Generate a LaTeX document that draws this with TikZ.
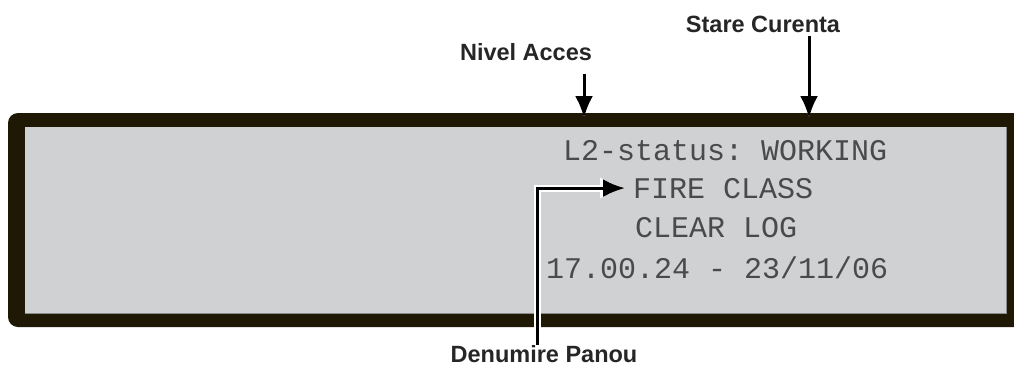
\documentclass[tikz,border=0pt]{standalone}
\usepackage{fontspec}
\setmainfont{Liberation Sans}
\setmonofont{Liberation Mono}
\usetikzlibrary{arrows.meta}
\usetikzlibrary{calc}

\definecolor{framecol}{HTML}{1F1804}
\definecolor{lcdcol}{HTML}{D0D1D3}
\definecolor{dotcol}{HTML}{4A4A4A}

\tikzset{
  label text/.style = {font = \fontsize{23.5}{28}\bfseries\selectfont,
    text = black!85, inner sep = 2pt, anchor = base},
  lcd text/.style = {font = \fontsize{30}{34}\ttfamily\selectfont,
    text = dotcol, inner sep = 0pt, anchor = base west},
  pointer/.style = {line width = 3pt, -{Latex[length = 22pt, width = 18pt]},
    preaction = {draw = white, line width = 7pt,
      -{Latex[length = 25pt, width = 22pt]}}}
}

\begin{document}
\begin{tikzpicture}[x = 1pt, y = -1pt]
  \useasboundingbox (0, 0) rectangle (1014, 367);

  % display frame and glass
  \begin{scope}
    \clip (0, 0) rectangle (1014, 367);
    \fill[framecol, rounded corners = 10pt] (8, 113) rectangle (1040, 327);
  \end{scope}
  \fill[lcdcol] (25, 127) rectangle (1006, 313);
  \draw[black!45, line width = .8pt] (25, 313) -- (1006, 313) -- (1006, 127);

  % lines on the display
  \node[lcd text] (status) at (563, 160) {L2-status: WORKING};
  \node[lcd text] (fire) at (633, 198) {FIRE CLASS};
  \node[lcd text] (clear) at (635, 237) {CLEAR LOG};
  \node[lcd text] (time) at (546, 278) {17.00.24 - 23/11/06};

  % callouts
  \node[label text] (nivel) at (526, 60) {Nivel Acces};
  \node[label text] (stare) at (763, 32) {Stare Curenta};
  \node[label text] (panou) at (544, 362) {Denumire Panou};

  \coordinate (nivtop) at (584, 74);
  \coordinate (nivtip) at (584, 118);
  \coordinate (startop) at (809, 36);
  \coordinate (startip) at (809, 118);
  \coordinate (fireend) at ($(fire.west) + (-8, 0)$);

  \draw[pointer] (nivtop) -- (nivtip);
  \draw[pointer] (startop) -- (startip);
  \draw[pointer] (panou.north -| 537, 0) ++(0, 2) |- (fireend);
\end{tikzpicture}
\end{document}
